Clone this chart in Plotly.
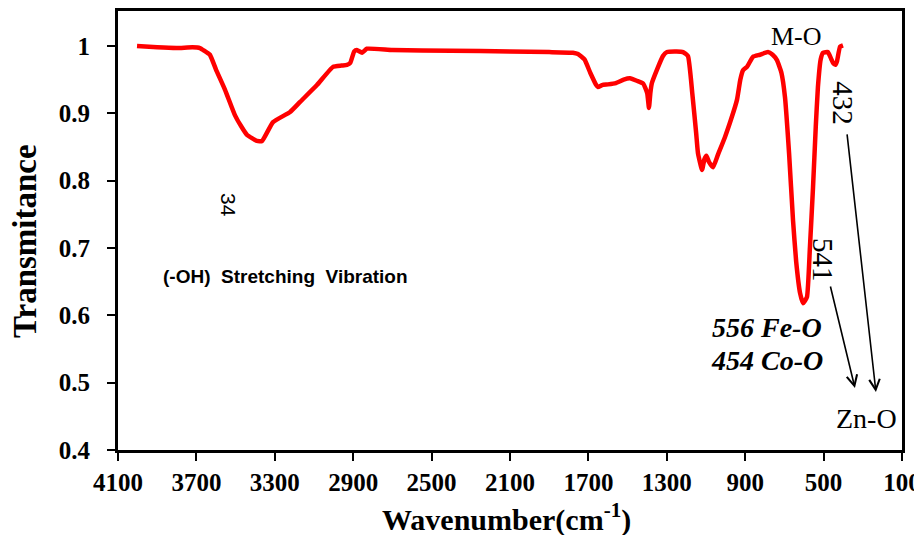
import plotly.graph_objects as go

wavenumber = [4003, 3900, 3800, 3720, 3682, 3660, 3631, 3600, 3554, 3503, 3470, 3442, 3391, 3365,
              3309, 3222, 3171, 3085, 3003, 2960, 2932, 2915, 2895, 2881, 2855, 2830, 2700, 2400,
              2100, 1900, 1779, 1753, 1720, 1690, 1660, 1651, 1630, 1600, 1560, 1520, 1488, 1450,
              1420, 1400, 1391, 1384, 1376, 1350, 1320, 1299, 1250, 1217, 1192, 1170, 1150, 1141,
              1120, 1108, 1098, 1085, 1064, 1040, 1003, 970, 942, 925, 911, 891, 860, 825, 784,
              760, 738, 715, 697, 676, 656, 640, 620, 605, 585, 570, 554, 540, 529, 515, 503, 478,
              460, 452, 440, 432, 416, 401]
transmittance = [1.000, 0.998, 0.997, 0.998, 0.997, 0.993, 0.987, 0.965, 0.935, 0.897, 0.880,
                 0.868, 0.859, 0.859, 0.887, 0.902, 0.917, 0.942, 0.969, 0.971, 0.972, 0.975,
                 0.992, 0.994, 0.990, 0.996, 0.994, 0.993, 0.992, 0.991, 0.990, 0.988, 0.980,
                 0.960, 0.942, 0.939, 0.942, 0.943, 0.945, 0.950, 0.952, 0.948, 0.944, 0.930,
                 0.908, 0.930, 0.945, 0.965, 0.985, 0.991, 0.992, 0.991, 0.985, 0.930, 0.870,
                 0.841, 0.816, 0.832, 0.837, 0.828, 0.820, 0.838, 0.865, 0.893, 0.920, 0.950,
                 0.964, 0.969, 0.984, 0.987, 0.991, 0.987, 0.979, 0.960, 0.924, 0.840, 0.741,
                 0.680, 0.633, 0.618, 0.627, 0.700, 0.790, 0.880, 0.939, 0.980, 0.990, 0.991,
                 0.980, 0.975, 0.972, 0.977, 0.999, 1.001]

x_ticks = [4100, 3700, 3300, 2900, 2500, 2100, 1700, 1300, 900, 500, 100]
y_ticks = [0.4, 0.5, 0.6, 0.7, 0.8, 0.9, 1.0]
y_tick_labels = ["0.4", "0.5", "0.6", "0.7", "0.8", "0.9", "1"]

serif = "Liberation Serif"
sans = "Liberation Sans"

fig = go.Figure()
fig.add_trace(go.Scatter(x=wavenumber, y=transmittance, mode="lines",
                         line=dict(color="#ff0000", width=4.5, shape="spline", smoothing=0.4),
                         showlegend=False, hoverinfo="skip"))

ann = []
def txt(x, y, s, size, font=serif, angle=0, bold=False, italic=False):
    if bold:
        s = "<b>" + s + "</b>"
    if italic:
        s = "<i>" + s + "</i>"
    ann.append(dict(x=x, y=y, xref="x", yref="y", text=s, showarrow=False, textangle=angle,
                    font=dict(family=font, size=size, color="black")))

txt(636, 1.014, "M-O", 26)
txt(401, 0.915, "432", 29, angle=90)
txt(503, 0.682, "541", 29, angle=90)
txt(789, 0.582, "556 Fe-O", 28, bold=True, italic=True)
txt(789, 0.533, "454 Co-O", 28, bold=True, italic=True)
txt(279, 0.447, "Zn-O", 28)
txt(3539, 0.764, "34", 21, font=sans, angle=90)
txt(3243, 0.657, "(-OH)&nbsp; Stretching&nbsp; Vibration", 19, font=sans, bold=True)

for (x0, y0, x1, y1) in [(381, 0.871, 233, 0.486), (467, 0.645, 340, 0.492)]:
    ann.append(dict(x=x1, y=y1, ax=x0, ay=y0, xref="x", yref="y", axref="x", ayref="y",
                    text="", showarrow=True, arrowhead=5, arrowsize=1.3, arrowwidth=1.6,
                    arrowcolor="black"))

# axis titles
ann.append(dict(x=0.496, y=0, xref="paper", yref="paper", yshift=-67, yanchor="middle",
                xanchor="center", showarrow=False,
                text="<b>Wavenumber(cm<sup>-1</sup>)</b>",
                font=dict(family=serif, size=30, color="black")))
ann.append(dict(x=0, y=0.476, xref="paper", yref="paper", xshift=-93, xanchor="center",
                yanchor="middle", showarrow=False, textangle=-90,
                text="<b>Transmitance</b>",
                font=dict(family=serif, size=33, color="black")))

fig.update_layout(
    width=914, height=527,
    margin=dict(l=110, r=20, t=3, b=85),
    paper_bgcolor="white", plot_bgcolor="white",
    annotations=ann,
    xaxis=dict(range=[4100, 100], tickvals=x_ticks, ticktext=[str(v) for v in x_ticks],
               automargin=False,
               showgrid=False, zeroline=False, showline=True, linewidth=3, linecolor="black",
               mirror=True, ticks="outside", ticklen=8, tickwidth=2, tickcolor="black",
               tickfont=dict(family=serif, size=25, color="black", weight="bold")),
    yaxis=dict(range=[0.4, 1.052], tickvals=y_ticks, ticktext=y_tick_labels,
               automargin=False, ticklabelstandoff=12,
               showgrid=False, zeroline=False, showline=True, linewidth=3, linecolor="black",
               mirror=True, ticks="outside", ticklen=8, tickwidth=2, tickcolor="black",
               tickfont=dict(family=serif, size=25, color="black", weight="bold")),
)

fig.write_html("out.html")
